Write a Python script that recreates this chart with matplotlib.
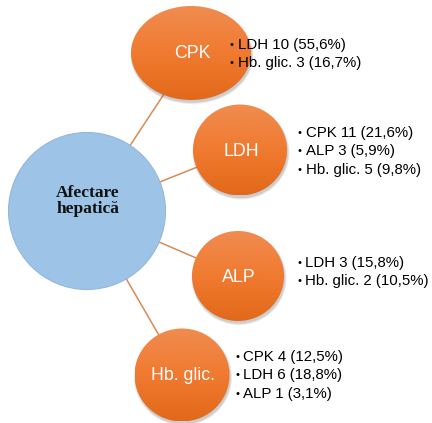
import matplotlib.pyplot as plt
import numpy as np
from matplotlib.patches import Ellipse
from matplotlib.colors import LinearSegmentedColormap

# central node and the four markers linked to it
center_label = "Afectare\nhepatică"
nodes = ["CPK", "LDH", "ALP", "Hb. glic."]
details = [
    ["LDH 10 (55,6%)", "Hb. glic. 3 (16,7%)"],
    ["CPK 11 (21,6%)", "ALP 3 (5,9%)", "Hb. glic. 5 (9,8%)"],
    ["LDH 3 (15,8%)", "Hb. glic. 2 (10,5%)"],
    ["CPK 4 (12,5%)", "LDH 6 (18,8%)", "ALP 1 (3,1%)"],
]

# layout in pixel units (y grows downward)
W, H = 432, 423
hub = (87, 211, 157, 157)
node_geom = [(191, 53, 120, 94), (240, 150, 94, 91),
             (238, 276, 92, 90), (182, 375, 95, 93)]
text_pos = [(230, 45), (298, 133), (297, 263), (235, 357)]
line_step = 18.3

fig = plt.figure(figsize=(W / 100, H / 100), dpi=100)
ax = fig.add_axes([0, 0, 1, 1])
ax.set_xlim(0, W)
ax.set_ylim(H, 0)
ax.set_aspect("auto")
ax.axis("off")

orange = LinearSegmentedColormap.from_list("org", ["#f08c50", "#f07a30", "#e2691a"])
grad = np.linspace(0, 1, 256).reshape(-1, 1)

# connectors from hub to each node
for (x, y, w, h) in node_geom:
    ax.plot([hub[0], x], [hub[1], y], color="#d98a55", lw=1.1, zorder=1)

# hub circle
ax.add_patch(Ellipse(hub[:2], hub[2], hub[3], facecolor="#9dc3e6",
                     edgecolor="#92b8dc", lw=0.8, zorder=2))
ax.text(hub[0] + 1, hub[1] - 10, center_label, ha="center", va="center",
        fontsize=12.5, fontweight="bold", family="Liberation Serif",
        color="#111111", linespacing=1.05, zorder=5)

for (x, y, w, h), name, lines, (tx, ty) in zip(node_geom, nodes, details, text_pos):
    # soft drop shadow
    for k, a in enumerate([0.10, 0.10, 0.12]):
        ax.add_patch(Ellipse((x + 1, y + 2.5), w + 3 - k * 1.5, h + 3 - k * 1.5,
                             facecolor="#555555", edgecolor="none", alpha=a, zorder=2))
    el = Ellipse((x, y), w, h, facecolor="none", edgecolor="none", zorder=3)
    ax.add_patch(el)
    im = ax.imshow(grad, cmap=orange, aspect="auto", zorder=3,
                   extent=(x - w / 2, x + w / 2, y + h / 2, y - h / 2))
    im.set_clip_path(el)
    ax.text(x + 1, y + 1, name, ha="center", va="center", fontsize=12.8,
            family="Liberation Sans", color="white", zorder=5)
    for i, s in enumerate(lines):
        ax.text(tx, ty + i * line_step, "•", ha="left", va="center",
                fontsize=8, family="Liberation Sans", color="black", zorder=5)
        ax.text(tx + 8, ty + i * line_step, s, ha="left", va="center",
                fontsize=10.8, family="Liberation Sans", color="black", zorder=5)

ax.set_xlim(0, W)
ax.set_ylim(H, 0)
fig.savefig("out.png", dpi=100)
